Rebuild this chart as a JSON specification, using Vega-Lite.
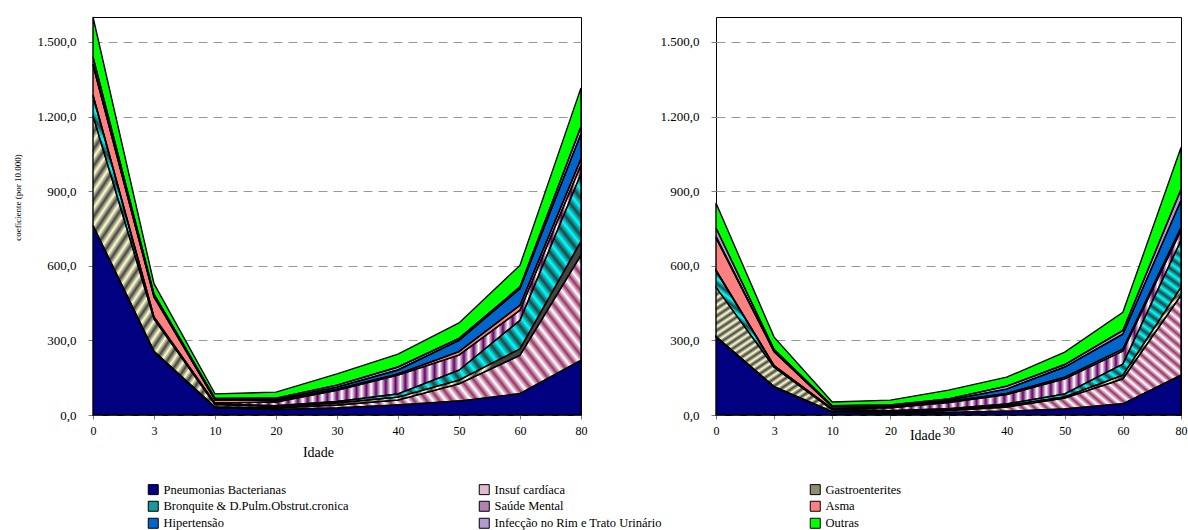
{
"$schema": "https://vega.github.io/schema/vega-lite/v6.json",
"background": "white",
"padding": {"left": 12, "top": 13, "right": 0, "bottom": 0},
"datasets": {"d": [
{"painel":"A","idade":0,"causa":"Pneumonias Bacterianas","valor":760},
{"painel":"A","idade":0,"causa":"Insuf cardíaca","valor":2},
{"painel":"A","idade":0,"causa":"Gastroenterites","valor":440},
{"painel":"A","idade":0,"causa":"Bronquite & D.Pulm.Obstrut.cronica","valor":80},
{"painel":"A","idade":0,"causa":"Saúde Mental","valor":5},
{"painel":"A","idade":0,"causa":"Asma","valor":120},
{"painel":"A","idade":0,"causa":"Hipertensão","valor":3},
{"painel":"A","idade":0,"causa":"Infecção no Rim e Trato Urinário","valor":30},
{"painel":"A","idade":0,"causa":"Outras","valor":160},
{"painel":"A","idade":3,"causa":"Pneumonias Bacterianas","valor":253},
{"painel":"A","idade":3,"causa":"Insuf cardíaca","valor":3},
{"painel":"A","idade":3,"causa":"Gastroenterites","valor":130},
{"painel":"A","idade":3,"causa":"Bronquite & D.Pulm.Obstrut.cronica","valor":5},
{"painel":"A","idade":3,"causa":"Saúde Mental","valor":3},
{"painel":"A","idade":3,"causa":"Asma","valor":80},
{"painel":"A","idade":3,"causa":"Hipertensão","valor":2},
{"painel":"A","idade":3,"causa":"Infecção no Rim e Trato Urinário","valor":10},
{"painel":"A","idade":3,"causa":"Outras","valor":42},
{"painel":"A","idade":10,"causa":"Pneumonias Bacterianas","valor":30},
{"painel":"A","idade":10,"causa":"Insuf cardíaca","valor":2},
{"painel":"A","idade":10,"causa":"Gastroenterites","valor":10},
{"painel":"A","idade":10,"causa":"Bronquite & D.Pulm.Obstrut.cronica","valor":3},
{"painel":"A","idade":10,"causa":"Saúde Mental","valor":3},
{"painel":"A","idade":10,"causa":"Asma","valor":12},
{"painel":"A","idade":10,"causa":"Hipertensão","valor":2},
{"painel":"A","idade":10,"causa":"Infecção no Rim e Trato Urinário","valor":5},
{"painel":"A","idade":10,"causa":"Outras","valor":18},
{"painel":"A","idade":20,"causa":"Pneumonias Bacterianas","valor":22},
{"painel":"A","idade":20,"causa":"Insuf cardíaca","valor":6},
{"painel":"A","idade":20,"causa":"Gastroenterites","valor":6},
{"painel":"A","idade":20,"causa":"Bronquite & D.Pulm.Obstrut.cronica","valor":3},
{"painel":"A","idade":20,"causa":"Saúde Mental","valor":15},
{"painel":"A","idade":20,"causa":"Asma","valor":6},
{"painel":"A","idade":20,"causa":"Hipertensão","valor":5},
{"painel":"A","idade":20,"causa":"Infecção no Rim e Trato Urinário","valor":5},
{"painel":"A","idade":20,"causa":"Outras","valor":24},
{"painel":"A","idade":30,"causa":"Pneumonias Bacterianas","valor":28},
{"painel":"A","idade":30,"causa":"Insuf cardíaca","valor":12},
{"painel":"A","idade":30,"causa":"Gastroenterites","valor":8},
{"painel":"A","idade":30,"causa":"Bronquite & D.Pulm.Obstrut.cronica","valor":6},
{"painel":"A","idade":30,"causa":"Saúde Mental","valor":45},
{"painel":"A","idade":30,"causa":"Asma","valor":5},
{"painel":"A","idade":30,"causa":"Hipertensão","valor":8},
{"painel":"A","idade":30,"causa":"Infecção no Rim e Trato Urinário","valor":8},
{"painel":"A","idade":30,"causa":"Outras","valor":45},
{"painel":"A","idade":40,"causa":"Pneumonias Bacterianas","valor":40},
{"painel":"A","idade":40,"causa":"Insuf cardíaca","valor":20},
{"painel":"A","idade":40,"causa":"Gastroenterites","valor":12},
{"painel":"A","idade":40,"causa":"Bronquite & D.Pulm.Obstrut.cronica","valor":13},
{"painel":"A","idade":40,"causa":"Saúde Mental","valor":75},
{"painel":"A","idade":40,"causa":"Asma","valor":5},
{"painel":"A","idade":40,"causa":"Hipertensão","valor":16},
{"painel":"A","idade":40,"causa":"Infecção no Rim e Trato Urinário","valor":12},
{"painel":"A","idade":40,"causa":"Outras","valor":52},
{"painel":"A","idade":50,"causa":"Pneumonias Bacterianas","valor":56},
{"painel":"A","idade":50,"causa":"Insuf cardíaca","valor":69},
{"painel":"A","idade":50,"causa":"Gastroenterites","valor":15},
{"painel":"A","idade":50,"causa":"Bronquite & D.Pulm.Obstrut.cronica","valor":40},
{"painel":"A","idade":50,"causa":"Saúde Mental","valor":61},
{"painel":"A","idade":50,"causa":"Asma","valor":14},
{"painel":"A","idade":50,"causa":"Hipertensão","valor":45},
{"painel":"A","idade":50,"causa":"Infecção no Rim e Trato Urinário","valor":8},
{"painel":"A","idade":50,"causa":"Outras","valor":62},
{"painel":"A","idade":60,"causa":"Pneumonias Bacterianas","valor":86},
{"painel":"A","idade":60,"causa":"Insuf cardíaca","valor":154},
{"painel":"A","idade":60,"causa":"Gastroenterites","valor":26},
{"painel":"A","idade":60,"causa":"Bronquite & D.Pulm.Obstrut.cronica","valor":115},
{"painel":"A","idade":60,"causa":"Saúde Mental","valor":40},
{"painel":"A","idade":60,"causa":"Asma","valor":20},
{"painel":"A","idade":60,"causa":"Hipertensão","valor":67},
{"painel":"A","idade":60,"causa":"Infecção no Rim e Trato Urinário","valor":7},
{"painel":"A","idade":60,"causa":"Outras","valor":87},
{"painel":"A","idade":80,"causa":"Pneumonias Bacterianas","valor":220},
{"painel":"A","idade":80,"causa":"Insuf cardíaca","valor":423},
{"painel":"A","idade":80,"causa":"Gastroenterites","valor":55},
{"painel":"A","idade":80,"causa":"Bronquite & D.Pulm.Obstrut.cronica","valor":272},
{"painel":"A","idade":80,"causa":"Saúde Mental","valor":35},
{"painel":"A","idade":80,"causa":"Asma","valor":25},
{"painel":"A","idade":80,"causa":"Hipertensão","valor":100},
{"painel":"A","idade":80,"causa":"Infecção no Rim e Trato Urinário","valor":30},
{"painel":"A","idade":80,"causa":"Outras","valor":155},
{"painel":"B","idade":0,"causa":"Pneumonias Bacterianas","valor":313},
{"painel":"B","idade":0,"causa":"Insuf cardíaca","valor":2},
{"painel":"B","idade":0,"causa":"Gastroenterites","valor":198},
{"painel":"B","idade":0,"causa":"Bronquite & D.Pulm.Obstrut.cronica","valor":66},
{"painel":"B","idade":0,"causa":"Saúde Mental","valor":3},
{"painel":"B","idade":0,"causa":"Asma","valor":130},
{"painel":"B","idade":0,"causa":"Hipertensão","valor":5},
{"painel":"B","idade":0,"causa":"Infecção no Rim e Trato Urinário","valor":35},
{"painel":"B","idade":0,"causa":"Outras","valor":100},
{"painel":"B","idade":3,"causa":"Pneumonias Bacterianas","valor":112},
{"painel":"B","idade":3,"causa":"Insuf cardíaca","valor":2},
{"painel":"B","idade":3,"causa":"Gastroenterites","valor":78},
{"painel":"B","idade":3,"causa":"Bronquite & D.Pulm.Obstrut.cronica","valor":5},
{"painel":"B","idade":3,"causa":"Saúde Mental","valor":2},
{"painel":"B","idade":3,"causa":"Asma","valor":55},
{"painel":"B","idade":3,"causa":"Hipertensão","valor":2},
{"painel":"B","idade":3,"causa":"Infecção no Rim e Trato Urinário","valor":7},
{"painel":"B","idade":3,"causa":"Outras","valor":50},
{"painel":"B","idade":10,"causa":"Pneumonias Bacterianas","valor":12},
{"painel":"B","idade":10,"causa":"Insuf cardíaca","valor":1},
{"painel":"B","idade":10,"causa":"Gastroenterites","valor":8},
{"painel":"B","idade":10,"causa":"Bronquite & D.Pulm.Obstrut.cronica","valor":2},
{"painel":"B","idade":10,"causa":"Saúde Mental","valor":2},
{"painel":"B","idade":10,"causa":"Asma","valor":8},
{"painel":"B","idade":10,"causa":"Hipertensão","valor":1},
{"painel":"B","idade":10,"causa":"Infecção no Rim e Trato Urinário","valor":3},
{"painel":"B","idade":10,"causa":"Outras","valor":15},
{"painel":"B","idade":20,"causa":"Pneumonias Bacterianas","valor":8},
{"painel":"B","idade":20,"causa":"Insuf cardíaca","valor":3},
{"painel":"B","idade":20,"causa":"Gastroenterites","valor":4},
{"painel":"B","idade":20,"causa":"Bronquite & D.Pulm.Obstrut.cronica","valor":2},
{"painel":"B","idade":20,"causa":"Saúde Mental","valor":12},
{"painel":"B","idade":20,"causa":"Asma","valor":4},
{"painel":"B","idade":20,"causa":"Hipertensão","valor":4},
{"painel":"B","idade":20,"causa":"Infecção no Rim e Trato Urinário","valor":3},
{"painel":"B","idade":20,"causa":"Outras","valor":20},
{"painel":"B","idade":30,"causa":"Pneumonias Bacterianas","valor":10},
{"painel":"B","idade":30,"causa":"Insuf cardíaca","valor":8},
{"painel":"B","idade":30,"causa":"Gastroenterites","valor":4},
{"painel":"B","idade":30,"causa":"Bronquite & D.Pulm.Obstrut.cronica","valor":3},
{"painel":"B","idade":30,"causa":"Saúde Mental","valor":25},
{"painel":"B","idade":30,"causa":"Asma","valor":4},
{"painel":"B","idade":30,"causa":"Hipertensão","valor":6},
{"painel":"B","idade":30,"causa":"Infecção no Rim e Trato Urinário","valor":5},
{"painel":"B","idade":30,"causa":"Outras","valor":35},
{"painel":"B","idade":40,"causa":"Pneumonias Bacterianas","valor":15},
{"painel":"B","idade":40,"causa":"Insuf cardíaca","valor":17},
{"painel":"B","idade":40,"causa":"Gastroenterites","valor":6},
{"painel":"B","idade":40,"causa":"Bronquite & D.Pulm.Obstrut.cronica","valor":6},
{"painel":"B","idade":40,"causa":"Saúde Mental","valor":38},
{"painel":"B","idade":40,"causa":"Asma","valor":5},
{"painel":"B","idade":40,"causa":"Hipertensão","valor":17},
{"painel":"B","idade":40,"causa":"Infecção no Rim e Trato Urinário","valor":12},
{"painel":"B","idade":40,"causa":"Outras","valor":36},
{"painel":"B","idade":50,"causa":"Pneumonias Bacterianas","valor":24},
{"painel":"B","idade":50,"causa":"Insuf cardíaca","valor":44},
{"painel":"B","idade":50,"causa":"Gastroenterites","valor":5},
{"painel":"B","idade":50,"causa":"Bronquite & D.Pulm.Obstrut.cronica","valor":12},
{"painel":"B","idade":50,"causa":"Saúde Mental","valor":60},
{"painel":"B","idade":50,"causa":"Asma","valor":7},
{"painel":"B","idade":50,"causa":"Hipertensão","valor":41},
{"painel":"B","idade":50,"causa":"Infecção no Rim e Trato Urinário","valor":10},
{"painel":"B","idade":50,"causa":"Outras","valor":50},
{"painel":"B","idade":60,"causa":"Pneumonias Bacterianas","valor":45},
{"painel":"B","idade":60,"causa":"Insuf cardíaca","valor":100},
{"painel":"B","idade":60,"causa":"Gastroenterites","valor":15},
{"painel":"B","idade":60,"causa":"Bronquite & D.Pulm.Obstrut.cronica","valor":45},
{"painel":"B","idade":60,"causa":"Saúde Mental","valor":52},
{"painel":"B","idade":60,"causa":"Asma","valor":8},
{"painel":"B","idade":60,"causa":"Hipertensão","valor":60},
{"painel":"B","idade":60,"causa":"Infecção no Rim e Trato Urinário","valor":15},
{"painel":"B","idade":60,"causa":"Outras","valor":73},
{"painel":"B","idade":80,"causa":"Pneumonias Bacterianas","valor":160},
{"painel":"B","idade":80,"causa":"Insuf cardíaca","valor":321},
{"painel":"B","idade":80,"causa":"Gastroenterites","valor":32},
{"painel":"B","idade":80,"causa":"Bronquite & D.Pulm.Obstrut.cronica","valor":189},
{"painel":"B","idade":80,"causa":"Saúde Mental","valor":40},
{"painel":"B","idade":80,"causa":"Asma","valor":12},
{"painel":"B","idade":80,"causa":"Hipertensão","valor":108},
{"painel":"B","idade":80,"causa":"Infecção no Rim e Trato Urinário","valor":45},
{"painel":"B","idade":80,"causa":"Outras","valor":168}
]},
"config": {
  "font": "Liberation Serif",
  "view": {"stroke": "black", "strokeWidth": 1},
  "concat": {"spacing": 71},
  "axis": {"labelFont": "Liberation Serif", "labelColor": "black", "titleFont": "Liberation Serif", "titleFontWeight": "normal", "titleColor": "black", "tickColor": "#808080", "domain": false, "grid": false},
  "axisY": {"grid": true, "gridDash": [9, 6], "gridColor": "#999999", "gridWidth": 1, "tickSize": 5, "labelPadding": 12, "labelFontSize": 13},
  "axisX": {"labelAngle": 0, "tickSize": 4, "labelPadding": 6, "labelFontSize": 12, "titleFontSize": 14}
},
"resolve": {"scale": {"color": "shared"}},
"hconcat": [
{
  "width": 488, "height": 398,
  "data": {"name": "d"},
  "transform": [
    {"filter": "datum.painel == 'A'"},
    {"calculate": "indexof(['Pneumonias Bacterianas','Insuf cardíaca','Gastroenterites','Bronquite & D.Pulm.Obstrut.cronica','Saúde Mental','Asma','Hipertensão','Infecção no Rim e Trato Urinário','Outras'], datum.causa)", "as": "ordem"},
    {"stack": "valor", "groupby": ["idade"], "sort": [{"field": "ordem", "order": "ascending"}], "as": ["y0", "y1"]}
  ],
  "encoding": {
    "x": {"field": "idade", "type": "ordinal", "scale": {"type": "point", "padding": 0}, "axis": {"title": "Idade", "titleX": 225, "titleY": 37, "titleBaseline": "middle", "titleAlign": "center"}},
    "y": {"field": "y1", "type": "quantitative", "scale": {"domain": [0, 1600], "nice": false}, "axis": {"values": [0, 300, 600, 900, 1200, 1500], "labelExpr": "replace(replace(replace(format(datum.value, ',.1f'), ',', '_'), '.', ','), '_', '.')", "title": "coeficiente (por 10.000)", "titleFontSize": 9, "titleX": -76, "titleY": 180, "titleAngle": -90, "titleAlign": "center", "titleBaseline": "middle"}},
    "y2": {"field": "y0"}
  },
  "layer": [
    {
      "mark": {"type": "area", "interpolate": "linear", "opacity": 1},
      "encoding": {
        "color": {"field": "causa", "type": "nominal",
          "scale": {
            "domain": ["Pneumonias Bacterianas","Insuf cardíaca","Gastroenterites","Bronquite & D.Pulm.Obstrut.cronica","Saúde Mental","Asma","Hipertensão","Infecção no Rim e Trato Urinário","Outras"],
            "range": ["#000080", "#e2b8cf", "#8f8d70", "#199999", "#b380b3", "#ff8080", "#0066cc", "#b399d4", "#00ff00"]
          },
          "legend": {"orient": "none", "legendX": 54, "legendY": 466, "columns": 3, "direction": "horizontal", "title": null, "symbolType": "square", "symbolSize": 100, "symbolStrokeColor": "black", "symbolStrokeWidth": 1, "symbolOpacity": 1, "labelFont": "Liberation Serif", "labelFontSize": 12.5, "labelColor": "black", "labelLimit": 300, "labelOffset": 4, "columnPadding": 128, "rowPadding": 2, "gridAlign": "all"}
        }
      }
    },
    {
      "transform": [{"filter": "datum.causa == 'Insuf cardíaca'"}],
      "mark": {"type": "area", "interpolate": "linear", "fill": {"gradient": "linear", "x1": 0, "y1": 1, "x2": 1.19, "y2": 0.65, "stops": [
{"offset":0,"color":"#936"},{"offset":0.01,"color":"#fff"},{"offset":0.02,"color":"#936"},{"offset":0.03,"color":"#fff"},{"offset":0.04,"color":"#936"},{"offset":0.05,"color":"#fff"},{"offset":0.06,"color":"#936"},{"offset":0.07,"color":"#fff"},{"offset":0.08,"color":"#936"},{"offset":0.09,"color":"#fff"},
{"offset":0.1,"color":"#936"},{"offset":0.11,"color":"#fff"},{"offset":0.12,"color":"#936"},{"offset":0.13,"color":"#fff"},{"offset":0.14,"color":"#936"},{"offset":0.15,"color":"#fff"},{"offset":0.16,"color":"#936"},{"offset":0.17,"color":"#fff"},{"offset":0.18,"color":"#936"},{"offset":0.19,"color":"#fff"},
{"offset":0.2,"color":"#936"},{"offset":0.21,"color":"#fff"},{"offset":0.22,"color":"#936"},{"offset":0.23,"color":"#fff"},{"offset":0.24,"color":"#936"},{"offset":0.25,"color":"#fff"},{"offset":0.26,"color":"#936"},{"offset":0.27,"color":"#fff"},{"offset":0.28,"color":"#936"},{"offset":0.29,"color":"#fff"},
{"offset":0.3,"color":"#936"},{"offset":0.31,"color":"#fff"},{"offset":0.32,"color":"#936"},{"offset":0.33,"color":"#fff"},{"offset":0.34,"color":"#936"},{"offset":0.35,"color":"#fff"},{"offset":0.36,"color":"#936"},{"offset":0.37,"color":"#fff"},{"offset":0.38,"color":"#936"},{"offset":0.39,"color":"#fff"},
{"offset":0.4,"color":"#936"},{"offset":0.41,"color":"#fff"},{"offset":0.42,"color":"#936"},{"offset":0.43,"color":"#fff"},{"offset":0.44,"color":"#936"},{"offset":0.45,"color":"#fff"},{"offset":0.46,"color":"#936"},{"offset":0.47,"color":"#fff"},{"offset":0.48,"color":"#936"},{"offset":0.49,"color":"#fff"},
{"offset":0.5,"color":"#936"},{"offset":0.51,"color":"#fff"},{"offset":0.52,"color":"#936"},{"offset":0.53,"color":"#fff"},{"offset":0.54,"color":"#936"},{"offset":0.55,"color":"#fff"},{"offset":0.56,"color":"#936"},{"offset":0.57,"color":"#fff"},{"offset":0.58,"color":"#936"},{"offset":0.59,"color":"#fff"},
{"offset":0.6,"color":"#936"},{"offset":0.61,"color":"#fff"},{"offset":0.62,"color":"#936"},{"offset":0.63,"color":"#fff"},{"offset":0.64,"color":"#936"},{"offset":0.65,"color":"#fff"},{"offset":0.66,"color":"#936"},{"offset":0.67,"color":"#fff"},{"offset":0.68,"color":"#936"},{"offset":0.69,"color":"#fff"},
{"offset":0.7,"color":"#936"},{"offset":0.71,"color":"#fff"},{"offset":0.72,"color":"#936"},{"offset":0.73,"color":"#fff"},{"offset":0.74,"color":"#936"},{"offset":0.75,"color":"#fff"},{"offset":0.76,"color":"#936"},{"offset":0.77,"color":"#fff"},{"offset":0.78,"color":"#936"},{"offset":0.79,"color":"#fff"},
{"offset":0.8,"color":"#936"},{"offset":0.81,"color":"#fff"},{"offset":0.82,"color":"#936"},{"offset":0.83,"color":"#fff"},{"offset":0.84,"color":"#936"},{"offset":0.85,"color":"#fff"},{"offset":0.86,"color":"#936"},{"offset":0.87,"color":"#fff"},{"offset":0.88,"color":"#936"},{"offset":0.89,"color":"#fff"},
{"offset":0.9,"color":"#936"},{"offset":0.91,"color":"#fff"},{"offset":0.92,"color":"#936"},{"offset":0.93,"color":"#fff"},{"offset":0.94,"color":"#936"},{"offset":0.95,"color":"#fff"},{"offset":0.96,"color":"#936"},{"offset":0.97,"color":"#fff"},{"offset":0.98,"color":"#936"},{"offset":0.99,"color":"#fff"},
{"offset":1,"color":"#936"}]}}
    },
    {
      "transform": [{"filter": "datum.causa == 'Gastroenterites'"}],
      "mark": {"type": "area", "interpolate": "linear", "fill": {"gradient": "linear", "x1": 0, "y1": 0, "x2": 1, "y2": 0.4, "stops": [
{"offset":0,"color":"#444"},{"offset":0.01,"color":"#ffc"},{"offset":0.02,"color":"#444"},{"offset":0.03,"color":"#ffc"},{"offset":0.04,"color":"#444"},{"offset":0.05,"color":"#ffc"},{"offset":0.06,"color":"#444"},{"offset":0.07,"color":"#ffc"},{"offset":0.08,"color":"#444"},{"offset":0.09,"color":"#ffc"},
{"offset":0.1,"color":"#444"},{"offset":0.11,"color":"#ffc"},{"offset":0.12,"color":"#444"},{"offset":0.13,"color":"#ffc"},{"offset":0.14,"color":"#444"},{"offset":0.15,"color":"#ffc"},{"offset":0.16,"color":"#444"},{"offset":0.17,"color":"#ffc"},{"offset":0.18,"color":"#444"},{"offset":0.19,"color":"#ffc"},
{"offset":0.2,"color":"#444"},{"offset":0.21,"color":"#ffc"},{"offset":0.22,"color":"#444"},{"offset":0.23,"color":"#ffc"},{"offset":0.24,"color":"#444"},{"offset":0.25,"color":"#ffc"},{"offset":0.26,"color":"#444"},{"offset":0.27,"color":"#ffc"},{"offset":0.28,"color":"#444"},{"offset":0.29,"color":"#ffc"},
{"offset":0.3,"color":"#444"},{"offset":0.31,"color":"#ffc"},{"offset":0.32,"color":"#444"},{"offset":0.33,"color":"#ffc"},{"offset":0.34,"color":"#444"},{"offset":0.35,"color":"#ffc"},{"offset":0.36,"color":"#444"},{"offset":0.37,"color":"#ffc"},{"offset":0.38,"color":"#444"},{"offset":0.39,"color":"#ffc"},
{"offset":0.4,"color":"#444"},{"offset":0.41,"color":"#ffc"},{"offset":0.42,"color":"#444"},{"offset":0.43,"color":"#ffc"},{"offset":0.44,"color":"#444"},{"offset":0.45,"color":"#ffc"},{"offset":0.46,"color":"#444"},{"offset":0.47,"color":"#ffc"},{"offset":0.48,"color":"#444"},{"offset":0.49,"color":"#ffc"},
{"offset":0.5,"color":"#444"},{"offset":0.51,"color":"#ffc"},{"offset":0.52,"color":"#444"},{"offset":0.53,"color":"#ffc"},{"offset":0.54,"color":"#444"},{"offset":0.55,"color":"#ffc"},{"offset":0.56,"color":"#444"},{"offset":0.57,"color":"#ffc"},{"offset":0.58,"color":"#444"},{"offset":0.59,"color":"#ffc"},
{"offset":0.6,"color":"#444"},{"offset":0.61,"color":"#ffc"},{"offset":0.62,"color":"#444"},{"offset":0.63,"color":"#ffc"},{"offset":0.64,"color":"#444"},{"offset":0.65,"color":"#ffc"},{"offset":0.66,"color":"#444"},{"offset":0.67,"color":"#ffc"},{"offset":0.68,"color":"#444"},{"offset":0.69,"color":"#ffc"},
{"offset":0.7,"color":"#444"},{"offset":0.71,"color":"#ffc"},{"offset":0.72,"color":"#444"},{"offset":0.73,"color":"#ffc"},{"offset":0.74,"color":"#444"},{"offset":0.75,"color":"#ffc"},{"offset":0.76,"color":"#444"},{"offset":0.77,"color":"#ffc"},{"offset":0.78,"color":"#444"},{"offset":0.79,"color":"#ffc"},
{"offset":0.8,"color":"#444"},{"offset":0.81,"color":"#ffc"},{"offset":0.82,"color":"#444"},{"offset":0.83,"color":"#ffc"},{"offset":0.84,"color":"#444"},{"offset":0.85,"color":"#ffc"},{"offset":0.86,"color":"#444"},{"offset":0.87,"color":"#ffc"},{"offset":0.88,"color":"#444"},{"offset":0.89,"color":"#ffc"},
{"offset":0.9,"color":"#444"},{"offset":0.91,"color":"#ffc"},{"offset":0.92,"color":"#444"},{"offset":0.93,"color":"#ffc"},{"offset":0.94,"color":"#444"},{"offset":0.95,"color":"#ffc"},{"offset":0.96,"color":"#444"},{"offset":0.97,"color":"#ffc"},{"offset":0.98,"color":"#444"},{"offset":0.99,"color":"#ffc"},
{"offset":1,"color":"#444"}]}}
    },
    {
      "transform": [{"filter": "datum.causa == 'Bronquite & D.Pulm.Obstrut.cronica'"}],
      "mark": {"type": "area", "interpolate": "linear", "fill": {"gradient": "linear", "x1": 0, "y1": 1, "x2": 1.2, "y2": 0.4, "stops": [
{"offset":0,"color":"#0ff"},{"offset":0.01,"color":"#244"},{"offset":0.02,"color":"#0ff"},{"offset":0.03,"color":"#244"},{"offset":0.04,"color":"#0ff"},{"offset":0.05,"color":"#244"},{"offset":0.06,"color":"#0ff"},{"offset":0.07,"color":"#244"},{"offset":0.08,"color":"#0ff"},{"offset":0.09,"color":"#244"},
{"offset":0.1,"color":"#0ff"},{"offset":0.11,"color":"#244"},{"offset":0.12,"color":"#0ff"},{"offset":0.13,"color":"#244"},{"offset":0.14,"color":"#0ff"},{"offset":0.15,"color":"#244"},{"offset":0.16,"color":"#0ff"},{"offset":0.17,"color":"#244"},{"offset":0.18,"color":"#0ff"},{"offset":0.19,"color":"#244"},
{"offset":0.2,"color":"#0ff"},{"offset":0.21,"color":"#244"},{"offset":0.22,"color":"#0ff"},{"offset":0.23,"color":"#244"},{"offset":0.24,"color":"#0ff"},{"offset":0.25,"color":"#244"},{"offset":0.26,"color":"#0ff"},{"offset":0.27,"color":"#244"},{"offset":0.28,"color":"#0ff"},{"offset":0.29,"color":"#244"},
{"offset":0.3,"color":"#0ff"},{"offset":0.31,"color":"#244"},{"offset":0.32,"color":"#0ff"},{"offset":0.33,"color":"#244"},{"offset":0.34,"color":"#0ff"},{"offset":0.35,"color":"#244"},{"offset":0.36,"color":"#0ff"},{"offset":0.37,"color":"#244"},{"offset":0.38,"color":"#0ff"},{"offset":0.39,"color":"#244"},
{"offset":0.4,"color":"#0ff"},{"offset":0.41,"color":"#244"},{"offset":0.42,"color":"#0ff"},{"offset":0.43,"color":"#244"},{"offset":0.44,"color":"#0ff"},{"offset":0.45,"color":"#244"},{"offset":0.46,"color":"#0ff"},{"offset":0.47,"color":"#244"},{"offset":0.48,"color":"#0ff"},{"offset":0.49,"color":"#244"},
{"offset":0.5,"color":"#0ff"},{"offset":0.51,"color":"#244"},{"offset":0.52,"color":"#0ff"},{"offset":0.53,"color":"#244"},{"offset":0.54,"color":"#0ff"},{"offset":0.55,"color":"#244"},{"offset":0.56,"color":"#0ff"},{"offset":0.57,"color":"#244"},{"offset":0.58,"color":"#0ff"},{"offset":0.59,"color":"#244"},
{"offset":0.6,"color":"#0ff"},{"offset":0.61,"color":"#244"},{"offset":0.62,"color":"#0ff"},{"offset":0.63,"color":"#244"},{"offset":0.64,"color":"#0ff"},{"offset":0.65,"color":"#244"},{"offset":0.66,"color":"#0ff"},{"offset":0.67,"color":"#244"},{"offset":0.68,"color":"#0ff"},{"offset":0.69,"color":"#244"},
{"offset":0.7,"color":"#0ff"},{"offset":0.71,"color":"#244"},{"offset":0.72,"color":"#0ff"},{"offset":0.73,"color":"#244"},{"offset":0.74,"color":"#0ff"},{"offset":0.75,"color":"#244"},{"offset":0.76,"color":"#0ff"},{"offset":0.77,"color":"#244"},{"offset":0.78,"color":"#0ff"},{"offset":0.79,"color":"#244"},
{"offset":0.8,"color":"#0ff"},{"offset":0.81,"color":"#244"},{"offset":0.82,"color":"#0ff"},{"offset":0.83,"color":"#244"},{"offset":0.84,"color":"#0ff"},{"offset":0.85,"color":"#244"},{"offset":0.86,"color":"#0ff"},{"offset":0.87,"color":"#244"},{"offset":0.88,"color":"#0ff"},{"offset":0.89,"color":"#244"},
{"offset":0.9,"color":"#0ff"},{"offset":0.91,"color":"#244"},{"offset":0.92,"color":"#0ff"},{"offset":0.93,"color":"#244"},{"offset":0.94,"color":"#0ff"},{"offset":0.95,"color":"#244"},{"offset":0.96,"color":"#0ff"},{"offset":0.97,"color":"#244"},{"offset":0.98,"color":"#0ff"},{"offset":0.99,"color":"#244"},
{"offset":1,"color":"#0ff"}]}}
    },
    {
      "transform": [{"filter": "datum.causa == 'Saúde Mental'"}],
      "mark": {"type": "area", "interpolate": "linear", "fill": {"gradient": "linear", "x1": 0, "y1": 0, "x2": 1, "y2": 0, "stops": [
{"offset":0,"color":"#606"},{"offset":0.01,"color":"#fff"},{"offset":0.02,"color":"#606"},{"offset":0.03,"color":"#fff"},{"offset":0.04,"color":"#606"},{"offset":0.05,"color":"#fff"},{"offset":0.06,"color":"#606"},{"offset":0.07,"color":"#fff"},{"offset":0.08,"color":"#606"},{"offset":0.09,"color":"#fff"},
{"offset":0.1,"color":"#606"},{"offset":0.11,"color":"#fff"},{"offset":0.12,"color":"#606"},{"offset":0.13,"color":"#fff"},{"offset":0.14,"color":"#606"},{"offset":0.15,"color":"#fff"},{"offset":0.16,"color":"#606"},{"offset":0.17,"color":"#fff"},{"offset":0.18,"color":"#606"},{"offset":0.19,"color":"#fff"},
{"offset":0.2,"color":"#606"},{"offset":0.21,"color":"#fff"},{"offset":0.22,"color":"#606"},{"offset":0.23,"color":"#fff"},{"offset":0.24,"color":"#606"},{"offset":0.25,"color":"#fff"},{"offset":0.26,"color":"#606"},{"offset":0.27,"color":"#fff"},{"offset":0.28,"color":"#606"},{"offset":0.29,"color":"#fff"},
{"offset":0.3,"color":"#606"},{"offset":0.31,"color":"#fff"},{"offset":0.32,"color":"#606"},{"offset":0.33,"color":"#fff"},{"offset":0.34,"color":"#606"},{"offset":0.35,"color":"#fff"},{"offset":0.36,"color":"#606"},{"offset":0.37,"color":"#fff"},{"offset":0.38,"color":"#606"},{"offset":0.39,"color":"#fff"},
{"offset":0.4,"color":"#606"},{"offset":0.41,"color":"#fff"},{"offset":0.42,"color":"#606"},{"offset":0.43,"color":"#fff"},{"offset":0.44,"color":"#606"},{"offset":0.45,"color":"#fff"},{"offset":0.46,"color":"#606"},{"offset":0.47,"color":"#fff"},{"offset":0.48,"color":"#606"},{"offset":0.49,"color":"#fff"},
{"offset":0.5,"color":"#606"},{"offset":0.51,"color":"#fff"},{"offset":0.52,"color":"#606"},{"offset":0.53,"color":"#fff"},{"offset":0.54,"color":"#606"},{"offset":0.55,"color":"#fff"},{"offset":0.56,"color":"#606"},{"offset":0.57,"color":"#fff"},{"offset":0.58,"color":"#606"},{"offset":0.59,"color":"#fff"},
{"offset":0.6,"color":"#606"},{"offset":0.61,"color":"#fff"},{"offset":0.62,"color":"#606"},{"offset":0.63,"color":"#fff"},{"offset":0.64,"color":"#606"},{"offset":0.65,"color":"#fff"},{"offset":0.66,"color":"#606"},{"offset":0.67,"color":"#fff"},{"offset":0.68,"color":"#606"},{"offset":0.69,"color":"#fff"},
{"offset":0.7,"color":"#606"},{"offset":0.71,"color":"#fff"},{"offset":0.72,"color":"#606"},{"offset":0.73,"color":"#fff"},{"offset":0.74,"color":"#606"},{"offset":0.75,"color":"#fff"},{"offset":0.76,"color":"#606"},{"offset":0.77,"color":"#fff"},{"offset":0.78,"color":"#606"},{"offset":0.79,"color":"#fff"},
{"offset":0.8,"color":"#606"},{"offset":0.81,"color":"#fff"},{"offset":0.82,"color":"#606"},{"offset":0.83,"color":"#fff"},{"offset":0.84,"color":"#606"},{"offset":0.85,"color":"#fff"},{"offset":0.86,"color":"#606"},{"offset":0.87,"color":"#fff"},{"offset":0.88,"color":"#606"},{"offset":0.89,"color":"#fff"},
{"offset":0.9,"color":"#606"},{"offset":0.91,"color":"#fff"},{"offset":0.92,"color":"#606"},{"offset":0.93,"color":"#fff"},{"offset":0.94,"color":"#606"},{"offset":0.95,"color":"#fff"},{"offset":0.96,"color":"#606"},{"offset":0.97,"color":"#fff"},{"offset":0.98,"color":"#606"},{"offset":0.99,"color":"#fff"},
{"offset":1,"color":"#606"}]}}
    },
    {
      "mark": {"type": "area", "interpolate": "linear", "fillOpacity": 0, "stroke": "black", "strokeWidth": 1.4},
      "encoding": {"detail": {"field": "causa", "type": "nominal"}}
    }
  ]
},
{
  "width": 465, "height": 398,
  "data": {"name": "d"},
  "transform": [
    {"filter": "datum.painel == 'B'"},
    {"calculate": "indexof(['Pneumonias Bacterianas','Insuf cardíaca','Gastroenterites','Bronquite & D.Pulm.Obstrut.cronica','Saúde Mental','Asma','Hipertensão','Infecção no Rim e Trato Urinário','Outras'], datum.causa)", "as": "ordem"},
    {"stack": "valor", "groupby": ["idade"], "sort": [{"field": "ordem", "order": "ascending"}], "as": ["y0", "y1"]}
  ],
  "encoding": {
    "x": {"field": "idade", "type": "ordinal", "scale": {"type": "point", "padding": 0}, "axis": {"title": "Idade", "titleX": 209, "titleY": 20, "titleBaseline": "middle", "titleAlign": "center"}},
    "y": {"field": "y1", "type": "quantitative", "scale": {"domain": [0, 1600], "nice": false}, "axis": {"values": [0, 300, 600, 900, 1200, 1500], "labelExpr": "replace(replace(replace(format(datum.value, ',.1f'), ',', '_'), '.', ','), '_', '.')", "title": null}},
    "y2": {"field": "y0"}
  },
  "layer": [
    {
      "mark": {"type": "area", "interpolate": "linear", "opacity": 1},
      "encoding": {"color": {"field": "causa", "type": "nominal"}}
    },
    {
      "transform": [{"filter": "datum.causa == 'Insuf cardíaca'"}],
      "mark": {"type": "area", "interpolate": "linear", "fill": {"gradient": "linear", "x1": 0, "y1": 1, "x2": 1.19, "y2": 0.65, "stops": [
{"offset":0,"color":"#936"},{"offset":0.01,"color":"#fff"},{"offset":0.02,"color":"#936"},{"offset":0.03,"color":"#fff"},{"offset":0.04,"color":"#936"},{"offset":0.05,"color":"#fff"},{"offset":0.06,"color":"#936"},{"offset":0.07,"color":"#fff"},{"offset":0.08,"color":"#936"},{"offset":0.09,"color":"#fff"},
{"offset":0.1,"color":"#936"},{"offset":0.11,"color":"#fff"},{"offset":0.12,"color":"#936"},{"offset":0.13,"color":"#fff"},{"offset":0.14,"color":"#936"},{"offset":0.15,"color":"#fff"},{"offset":0.16,"color":"#936"},{"offset":0.17,"color":"#fff"},{"offset":0.18,"color":"#936"},{"offset":0.19,"color":"#fff"},
{"offset":0.2,"color":"#936"},{"offset":0.21,"color":"#fff"},{"offset":0.22,"color":"#936"},{"offset":0.23,"color":"#fff"},{"offset":0.24,"color":"#936"},{"offset":0.25,"color":"#fff"},{"offset":0.26,"color":"#936"},{"offset":0.27,"color":"#fff"},{"offset":0.28,"color":"#936"},{"offset":0.29,"color":"#fff"},
{"offset":0.3,"color":"#936"},{"offset":0.31,"color":"#fff"},{"offset":0.32,"color":"#936"},{"offset":0.33,"color":"#fff"},{"offset":0.34,"color":"#936"},{"offset":0.35,"color":"#fff"},{"offset":0.36,"color":"#936"},{"offset":0.37,"color":"#fff"},{"offset":0.38,"color":"#936"},{"offset":0.39,"color":"#fff"},
{"offset":0.4,"color":"#936"},{"offset":0.41,"color":"#fff"},{"offset":0.42,"color":"#936"},{"offset":0.43,"color":"#fff"},{"offset":0.44,"color":"#936"},{"offset":0.45,"color":"#fff"},{"offset":0.46,"color":"#936"},{"offset":0.47,"color":"#fff"},{"offset":0.48,"color":"#936"},{"offset":0.49,"color":"#fff"},
{"offset":0.5,"color":"#936"},{"offset":0.51,"color":"#fff"},{"offset":0.52,"color":"#936"},{"offset":0.53,"color":"#fff"},{"offset":0.54,"color":"#936"},{"offset":0.55,"color":"#fff"},{"offset":0.56,"color":"#936"},{"offset":0.57,"color":"#fff"},{"offset":0.58,"color":"#936"},{"offset":0.59,"color":"#fff"},
{"offset":0.6,"color":"#936"},{"offset":0.61,"color":"#fff"},{"offset":0.62,"color":"#936"},{"offset":0.63,"color":"#fff"},{"offset":0.64,"color":"#936"},{"offset":0.65,"color":"#fff"},{"offset":0.66,"color":"#936"},{"offset":0.67,"color":"#fff"},{"offset":0.68,"color":"#936"},{"offset":0.69,"color":"#fff"},
{"offset":0.7,"color":"#936"},{"offset":0.71,"color":"#fff"},{"offset":0.72,"color":"#936"},{"offset":0.73,"color":"#fff"},{"offset":0.74,"color":"#936"},{"offset":0.75,"color":"#fff"},{"offset":0.76,"color":"#936"},{"offset":0.77,"color":"#fff"},{"offset":0.78,"color":"#936"},{"offset":0.79,"color":"#fff"},
{"offset":0.8,"color":"#936"},{"offset":0.81,"color":"#fff"},{"offset":0.82,"color":"#936"},{"offset":0.83,"color":"#fff"},{"offset":0.84,"color":"#936"},{"offset":0.85,"color":"#fff"},{"offset":0.86,"color":"#936"},{"offset":0.87,"color":"#fff"},{"offset":0.88,"color":"#936"},{"offset":0.89,"color":"#fff"},
{"offset":0.9,"color":"#936"},{"offset":0.91,"color":"#fff"},{"offset":0.92,"color":"#936"},{"offset":0.93,"color":"#fff"},{"offset":0.94,"color":"#936"},{"offset":0.95,"color":"#fff"},{"offset":0.96,"color":"#936"},{"offset":0.97,"color":"#fff"},{"offset":0.98,"color":"#936"},{"offset":0.99,"color":"#fff"},
{"offset":1,"color":"#936"}]}}
    },
    {
      "transform": [{"filter": "datum.causa == 'Gastroenterites'"}],
      "mark": {"type": "area", "interpolate": "linear", "fill": {"gradient": "linear", "x1": 0, "y1": 0, "x2": 1, "y2": 0.4, "stops": [
{"offset":0,"color":"#444"},{"offset":0.01,"color":"#ffc"},{"offset":0.02,"color":"#444"},{"offset":0.03,"color":"#ffc"},{"offset":0.04,"color":"#444"},{"offset":0.05,"color":"#ffc"},{"offset":0.06,"color":"#444"},{"offset":0.07,"color":"#ffc"},{"offset":0.08,"color":"#444"},{"offset":0.09,"color":"#ffc"},
{"offset":0.1,"color":"#444"},{"offset":0.11,"color":"#ffc"},{"offset":0.12,"color":"#444"},{"offset":0.13,"color":"#ffc"},{"offset":0.14,"color":"#444"},{"offset":0.15,"color":"#ffc"},{"offset":0.16,"color":"#444"},{"offset":0.17,"color":"#ffc"},{"offset":0.18,"color":"#444"},{"offset":0.19,"color":"#ffc"},
{"offset":0.2,"color":"#444"},{"offset":0.21,"color":"#ffc"},{"offset":0.22,"color":"#444"},{"offset":0.23,"color":"#ffc"},{"offset":0.24,"color":"#444"},{"offset":0.25,"color":"#ffc"},{"offset":0.26,"color":"#444"},{"offset":0.27,"color":"#ffc"},{"offset":0.28,"color":"#444"},{"offset":0.29,"color":"#ffc"},
{"offset":0.3,"color":"#444"},{"offset":0.31,"color":"#ffc"},{"offset":0.32,"color":"#444"},{"offset":0.33,"color":"#ffc"},{"offset":0.34,"color":"#444"},{"offset":0.35,"color":"#ffc"},{"offset":0.36,"color":"#444"},{"offset":0.37,"color":"#ffc"},{"offset":0.38,"color":"#444"},{"offset":0.39,"color":"#ffc"},
{"offset":0.4,"color":"#444"},{"offset":0.41,"color":"#ffc"},{"offset":0.42,"color":"#444"},{"offset":0.43,"color":"#ffc"},{"offset":0.44,"color":"#444"},{"offset":0.45,"color":"#ffc"},{"offset":0.46,"color":"#444"},{"offset":0.47,"color":"#ffc"},{"offset":0.48,"color":"#444"},{"offset":0.49,"color":"#ffc"},
{"offset":0.5,"color":"#444"},{"offset":0.51,"color":"#ffc"},{"offset":0.52,"color":"#444"},{"offset":0.53,"color":"#ffc"},{"offset":0.54,"color":"#444"},{"offset":0.55,"color":"#ffc"},{"offset":0.56,"color":"#444"},{"offset":0.57,"color":"#ffc"},{"offset":0.58,"color":"#444"},{"offset":0.59,"color":"#ffc"},
{"offset":0.6,"color":"#444"},{"offset":0.61,"color":"#ffc"},{"offset":0.62,"color":"#444"},{"offset":0.63,"color":"#ffc"},{"offset":0.64,"color":"#444"},{"offset":0.65,"color":"#ffc"},{"offset":0.66,"color":"#444"},{"offset":0.67,"color":"#ffc"},{"offset":0.68,"color":"#444"},{"offset":0.69,"color":"#ffc"},
{"offset":0.7,"color":"#444"},{"offset":0.71,"color":"#ffc"},{"offset":0.72,"color":"#444"},{"offset":0.73,"color":"#ffc"},{"offset":0.74,"color":"#444"},{"offset":0.75,"color":"#ffc"},{"offset":0.76,"color":"#444"},{"offset":0.77,"color":"#ffc"},{"offset":0.78,"color":"#444"},{"offset":0.79,"color":"#ffc"},
{"offset":0.8,"color":"#444"},{"offset":0.81,"color":"#ffc"},{"offset":0.82,"color":"#444"},{"offset":0.83,"color":"#ffc"},{"offset":0.84,"color":"#444"},{"offset":0.85,"color":"#ffc"},{"offset":0.86,"color":"#444"},{"offset":0.87,"color":"#ffc"},{"offset":0.88,"color":"#444"},{"offset":0.89,"color":"#ffc"},
{"offset":0.9,"color":"#444"},{"offset":0.91,"color":"#ffc"},{"offset":0.92,"color":"#444"},{"offset":0.93,"color":"#ffc"},{"offset":0.94,"color":"#444"},{"offset":0.95,"color":"#ffc"},{"offset":0.96,"color":"#444"},{"offset":0.97,"color":"#ffc"},{"offset":0.98,"color":"#444"},{"offset":0.99,"color":"#ffc"},
{"offset":1,"color":"#444"}]}}
    },
    {
      "transform": [{"filter": "datum.causa == 'Bronquite & D.Pulm.Obstrut.cronica'"}],
      "mark": {"type": "area", "interpolate": "linear", "fill": {"gradient": "linear", "x1": 0, "y1": 1, "x2": 1.2, "y2": 0.4, "stops": [
{"offset":0,"color":"#0ff"},{"offset":0.01,"color":"#244"},{"offset":0.02,"color":"#0ff"},{"offset":0.03,"color":"#244"},{"offset":0.04,"color":"#0ff"},{"offset":0.05,"color":"#244"},{"offset":0.06,"color":"#0ff"},{"offset":0.07,"color":"#244"},{"offset":0.08,"color":"#0ff"},{"offset":0.09,"color":"#244"},
{"offset":0.1,"color":"#0ff"},{"offset":0.11,"color":"#244"},{"offset":0.12,"color":"#0ff"},{"offset":0.13,"color":"#244"},{"offset":0.14,"color":"#0ff"},{"offset":0.15,"color":"#244"},{"offset":0.16,"color":"#0ff"},{"offset":0.17,"color":"#244"},{"offset":0.18,"color":"#0ff"},{"offset":0.19,"color":"#244"},
{"offset":0.2,"color":"#0ff"},{"offset":0.21,"color":"#244"},{"offset":0.22,"color":"#0ff"},{"offset":0.23,"color":"#244"},{"offset":0.24,"color":"#0ff"},{"offset":0.25,"color":"#244"},{"offset":0.26,"color":"#0ff"},{"offset":0.27,"color":"#244"},{"offset":0.28,"color":"#0ff"},{"offset":0.29,"color":"#244"},
{"offset":0.3,"color":"#0ff"},{"offset":0.31,"color":"#244"},{"offset":0.32,"color":"#0ff"},{"offset":0.33,"color":"#244"},{"offset":0.34,"color":"#0ff"},{"offset":0.35,"color":"#244"},{"offset":0.36,"color":"#0ff"},{"offset":0.37,"color":"#244"},{"offset":0.38,"color":"#0ff"},{"offset":0.39,"color":"#244"},
{"offset":0.4,"color":"#0ff"},{"offset":0.41,"color":"#244"},{"offset":0.42,"color":"#0ff"},{"offset":0.43,"color":"#244"},{"offset":0.44,"color":"#0ff"},{"offset":0.45,"color":"#244"},{"offset":0.46,"color":"#0ff"},{"offset":0.47,"color":"#244"},{"offset":0.48,"color":"#0ff"},{"offset":0.49,"color":"#244"},
{"offset":0.5,"color":"#0ff"},{"offset":0.51,"color":"#244"},{"offset":0.52,"color":"#0ff"},{"offset":0.53,"color":"#244"},{"offset":0.54,"color":"#0ff"},{"offset":0.55,"color":"#244"},{"offset":0.56,"color":"#0ff"},{"offset":0.57,"color":"#244"},{"offset":0.58,"color":"#0ff"},{"offset":0.59,"color":"#244"},
{"offset":0.6,"color":"#0ff"},{"offset":0.61,"color":"#244"},{"offset":0.62,"color":"#0ff"},{"offset":0.63,"color":"#244"},{"offset":0.64,"color":"#0ff"},{"offset":0.65,"color":"#244"},{"offset":0.66,"color":"#0ff"},{"offset":0.67,"color":"#244"},{"offset":0.68,"color":"#0ff"},{"offset":0.69,"color":"#244"},
{"offset":0.7,"color":"#0ff"},{"offset":0.71,"color":"#244"},{"offset":0.72,"color":"#0ff"},{"offset":0.73,"color":"#244"},{"offset":0.74,"color":"#0ff"},{"offset":0.75,"color":"#244"},{"offset":0.76,"color":"#0ff"},{"offset":0.77,"color":"#244"},{"offset":0.78,"color":"#0ff"},{"offset":0.79,"color":"#244"},
{"offset":0.8,"color":"#0ff"},{"offset":0.81,"color":"#244"},{"offset":0.82,"color":"#0ff"},{"offset":0.83,"color":"#244"},{"offset":0.84,"color":"#0ff"},{"offset":0.85,"color":"#244"},{"offset":0.86,"color":"#0ff"},{"offset":0.87,"color":"#244"},{"offset":0.88,"color":"#0ff"},{"offset":0.89,"color":"#244"},
{"offset":0.9,"color":"#0ff"},{"offset":0.91,"color":"#244"},{"offset":0.92,"color":"#0ff"},{"offset":0.93,"color":"#244"},{"offset":0.94,"color":"#0ff"},{"offset":0.95,"color":"#244"},{"offset":0.96,"color":"#0ff"},{"offset":0.97,"color":"#244"},{"offset":0.98,"color":"#0ff"},{"offset":0.99,"color":"#244"},
{"offset":1,"color":"#0ff"}]}}
    },
    {
      "transform": [{"filter": "datum.causa == 'Saúde Mental'"}],
      "mark": {"type": "area", "interpolate": "linear", "fill": {"gradient": "linear", "x1": 0, "y1": 0, "x2": 1, "y2": 0, "stops": [
{"offset":0,"color":"#606"},{"offset":0.01,"color":"#fff"},{"offset":0.02,"color":"#606"},{"offset":0.03,"color":"#fff"},{"offset":0.04,"color":"#606"},{"offset":0.05,"color":"#fff"},{"offset":0.06,"color":"#606"},{"offset":0.07,"color":"#fff"},{"offset":0.08,"color":"#606"},{"offset":0.09,"color":"#fff"},
{"offset":0.1,"color":"#606"},{"offset":0.11,"color":"#fff"},{"offset":0.12,"color":"#606"},{"offset":0.13,"color":"#fff"},{"offset":0.14,"color":"#606"},{"offset":0.15,"color":"#fff"},{"offset":0.16,"color":"#606"},{"offset":0.17,"color":"#fff"},{"offset":0.18,"color":"#606"},{"offset":0.19,"color":"#fff"},
{"offset":0.2,"color":"#606"},{"offset":0.21,"color":"#fff"},{"offset":0.22,"color":"#606"},{"offset":0.23,"color":"#fff"},{"offset":0.24,"color":"#606"},{"offset":0.25,"color":"#fff"},{"offset":0.26,"color":"#606"},{"offset":0.27,"color":"#fff"},{"offset":0.28,"color":"#606"},{"offset":0.29,"color":"#fff"},
{"offset":0.3,"color":"#606"},{"offset":0.31,"color":"#fff"},{"offset":0.32,"color":"#606"},{"offset":0.33,"color":"#fff"},{"offset":0.34,"color":"#606"},{"offset":0.35,"color":"#fff"},{"offset":0.36,"color":"#606"},{"offset":0.37,"color":"#fff"},{"offset":0.38,"color":"#606"},{"offset":0.39,"color":"#fff"},
{"offset":0.4,"color":"#606"},{"offset":0.41,"color":"#fff"},{"offset":0.42,"color":"#606"},{"offset":0.43,"color":"#fff"},{"offset":0.44,"color":"#606"},{"offset":0.45,"color":"#fff"},{"offset":0.46,"color":"#606"},{"offset":0.47,"color":"#fff"},{"offset":0.48,"color":"#606"},{"offset":0.49,"color":"#fff"},
{"offset":0.5,"color":"#606"},{"offset":0.51,"color":"#fff"},{"offset":0.52,"color":"#606"},{"offset":0.53,"color":"#fff"},{"offset":0.54,"color":"#606"},{"offset":0.55,"color":"#fff"},{"offset":0.56,"color":"#606"},{"offset":0.57,"color":"#fff"},{"offset":0.58,"color":"#606"},{"offset":0.59,"color":"#fff"},
{"offset":0.6,"color":"#606"},{"offset":0.61,"color":"#fff"},{"offset":0.62,"color":"#606"},{"offset":0.63,"color":"#fff"},{"offset":0.64,"color":"#606"},{"offset":0.65,"color":"#fff"},{"offset":0.66,"color":"#606"},{"offset":0.67,"color":"#fff"},{"offset":0.68,"color":"#606"},{"offset":0.69,"color":"#fff"},
{"offset":0.7,"color":"#606"},{"offset":0.71,"color":"#fff"},{"offset":0.72,"color":"#606"},{"offset":0.73,"color":"#fff"},{"offset":0.74,"color":"#606"},{"offset":0.75,"color":"#fff"},{"offset":0.76,"color":"#606"},{"offset":0.77,"color":"#fff"},{"offset":0.78,"color":"#606"},{"offset":0.79,"color":"#fff"},
{"offset":0.8,"color":"#606"},{"offset":0.81,"color":"#fff"},{"offset":0.82,"color":"#606"},{"offset":0.83,"color":"#fff"},{"offset":0.84,"color":"#606"},{"offset":0.85,"color":"#fff"},{"offset":0.86,"color":"#606"},{"offset":0.87,"color":"#fff"},{"offset":0.88,"color":"#606"},{"offset":0.89,"color":"#fff"},
{"offset":0.9,"color":"#606"},{"offset":0.91,"color":"#fff"},{"offset":0.92,"color":"#606"},{"offset":0.93,"color":"#fff"},{"offset":0.94,"color":"#606"},{"offset":0.95,"color":"#fff"},{"offset":0.96,"color":"#606"},{"offset":0.97,"color":"#fff"},{"offset":0.98,"color":"#606"},{"offset":0.99,"color":"#fff"},
{"offset":1,"color":"#606"}]}}
    },
    {
      "mark": {"type": "area", "interpolate": "linear", "fillOpacity": 0, "stroke": "black", "strokeWidth": 1.4},
      "encoding": {"detail": {"field": "causa", "type": "nominal"}}
    }
  ]
}
]
}
